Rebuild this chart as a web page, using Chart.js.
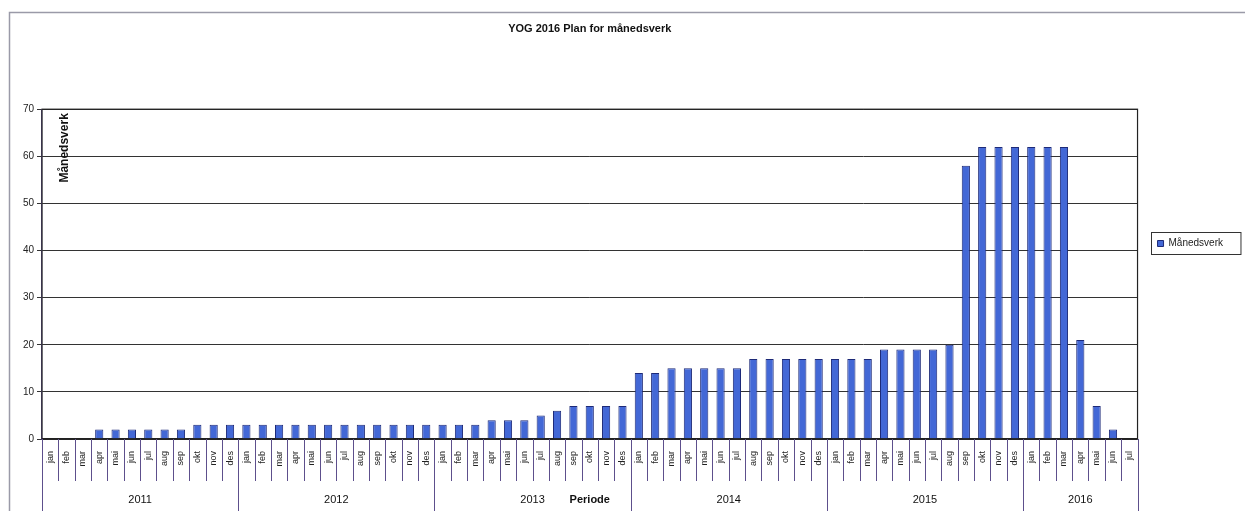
<!DOCTYPE html>
<html>
<head>
<meta charset="utf-8">
<script src="https://cdn.jsdelivr.net/npm/chart.js@4.4.1/dist/chart.umd.min.js"></script>
<style>
  html, body { margin: 0; padding: 0; background: #fff; }
  #wrap { width: 1245px; height: 511px; position: relative; }
</style>
</head>
<body>
<div id="wrap"><canvas id="chart"></canvas></div>
<script>
// Kategorier: år og måneder
const years = ['2011', '2012', '2013', '2014', '2015', '2016'];
const monthNames = ['jan', 'feb', 'mar', 'apr', 'mai', 'jun', 'jul', 'aug', 'sep', 'okt', 'nov', 'des'];
const monthsPerYear = [12, 12, 12, 12, 12, 7];

// Månedsverk per år (lest av figuren)
const mv2011 = [0, 0, 0, 2, 2, 2, 2, 2, 2, 3, 3, 3];
const mv2012 = [3, 3, 3, 3, 3, 3, 3, 3, 3, 3, 3, 3];
const mv2013 = [3, 3, 3, 4, 4, 4, 5, 6, 7, 7, 7, 7];
const mv2014 = [14, 14, 15, 15, 15, 15, 15, 17, 17, 17, 17, 17];
const mv2015 = [17, 17, 17, 19, 19, 19, 19, 20, 58, 62, 62, 62];
const mv2016 = [62, 62, 62, 21, 7, 2, 0];

const yTicks = [0, 10, 20, 30, 40, 50, 60, 70];

const labels = [];
years.forEach((y, i) => {
    for (let m = 0; m < monthsPerYear[i]; m++) labels.push(monthNames[m]);
});
const values = [].concat(mv2011, mv2012, mv2013, mv2014, mv2015, mv2016);

const FONT = "'Liberation Sans', Arial, sans-serif";
const SEP_COLOR = '#5d4f8c';

// Tegner ramme, skillelinjer, årstall og akse-tittel
const decorPlugin = {
    id: 'decor',
    afterLayout(chart) {
        // flytt legenden litt til høyre og opp, som i Excel-figuren
        const lg = chart.legend;
        if (lg) {
            lg.left += 8; lg.right += 8;
            lg.top -= 18; lg.bottom -= 18;
        }
    },
    beforeDraw(chart) {
        const ctx = chart.ctx;
        ctx.save();
        ctx.fillStyle = '#fff';
        ctx.fillRect(0, 0, chart.width, chart.height);
        ctx.strokeStyle = '#9a9aa8';
        ctx.lineWidth = 1.5;
        ctx.beginPath();
        ctx.moveTo(9.5, chart.height);
        ctx.lineTo(9.5, 12.5);
        ctx.lineTo(chart.width, 12.5);
        ctx.stroke();
        ctx.restore();
    },
    afterDraw(chart) {
        const ctx = chart.ctx;
        const xs = chart.scales.x;
        const area = chart.chartArea;
        const half = (xs.getPixelForValue(1) - xs.getPixelForValue(0)) / 2;
        ctx.save();

        // ramme rundt plottet
        ctx.strokeStyle = '#222';
        ctx.lineWidth = 1.2;
        ctx.strokeRect(area.left, area.top, area.right - area.left, area.bottom - area.top);

        // skillelinjer mellom måneder
        ctx.strokeStyle = SEP_COLOR;
        ctx.lineWidth = 1;
        for (let i = 1; i < labels.length; i++) {
            const x = Math.round(xs.getPixelForValue(i) - half) + 0.5;
            ctx.beginPath();
            ctx.moveTo(x, area.bottom);
            ctx.lineTo(x, area.bottom + 42);
            ctx.stroke();
        }

        // skillelinjer mellom år + årstall
        ctx.fillStyle = '#111';
        ctx.font = '11px ' + FONT;
        ctx.textAlign = 'center';
        ctx.textBaseline = 'middle';
        let start = 0;
        years.forEach((y, i) => {
            const end = start + monthsPerYear[i];
            const x0 = xs.getPixelForValue(start) - half;
            const x1 = i === years.length - 1 ? area.right : xs.getPixelForValue(end) - half;
            [x0, x1].forEach(x => {
                const px = Math.round(x) + 0.5;
                ctx.beginPath();
                ctx.moveTo(px, area.bottom);
                ctx.lineTo(px, chart.height);
                ctx.stroke();
            });
            ctx.fillText(y, (x0 + x1) / 2, 500);
            start = end;
        });

        // y-aksens tittel inne i plottet
        ctx.save();
        ctx.translate(area.left + 23, area.top + 4);
        ctx.rotate(-Math.PI / 2);
        ctx.font = 'bold 12px ' + FONT;
        ctx.textAlign = 'right';
        ctx.fillStyle = '#111';
        ctx.fillText('Månedsverk', 0, 0);
        ctx.restore();

        // ramme rundt legenden
        const hb = chart.legend && chart.legend.legendHitBoxes && chart.legend.legendHitBoxes[0];
        if (hb) {
            ctx.strokeStyle = '#333';
            ctx.lineWidth = 1;
            ctx.strokeRect(Math.round(hb.left) - 6.5, Math.round(hb.top) - 6.5, hb.width + 24, hb.height + 12);
        }
        ctx.restore();
    }
};

new Chart(document.getElementById('chart'), {
    type: 'bar',
    data: {
        labels: labels,
        datasets: [{
            label: 'Månedsverk',
            data: values,
            backgroundColor: '#4368d6',
            borderColor: '#1d2a78',
            borderWidth: 1,
            categoryPercentage: 1.0,
            barPercentage: 0.5
        }]
    },
    options: {
        responsive: true,
        maintainAspectRatio: false,
        animation: false,
        layout: { padding: { left: 10, top: 12, right: 20, bottom: 0 } },
        plugins: {
            title: {
                display: true,
                text: 'YOG 2016 Plan for månedsverk',
                fullSize: false,
                color: '#111',
                font: { family: FONT, size: 11, weight: 'bold' },
                padding: { top: 10, bottom: 74 }
            },
            legend: {
                position: 'right',
                labels: {
                    boxWidth: 6,
                    boxHeight: 6,
                    padding: 12,
                    color: '#222',
                    font: { family: FONT, size: 10 }
                }
            },
            tooltip: { enabled: false }
        },
        scales: {
            x: {
                grid: { display: false },
                border: { display: true, color: '#222', width: 1.2 },
                ticks: {
                    autoSkip: false,
                    minRotation: 90,
                    maxRotation: 90,
                    padding: 4,
                    color: '#222',
                    font: { family: FONT, size: 9 }
                },
                title: {
                    display: true,
                    text: 'Periode',
                    color: '#111',
                    font: { family: FONT, size: 11, weight: 'bold' },
                    padding: { top: 0, bottom: 4 }
                },
                afterFit(scale) { scale.height = 72; }
            },
            y: {
                min: 0,
                max: 70,
                afterBuildTicks(scale) { scale.ticks = yTicks.map(v => ({ value: v })); },
                grid: { color: '#333', lineWidth: 1, tickLength: 5 },
                border: { display: true, color: SEP_COLOR, width: 1.2 },
                ticks: {
                    padding: 3,
                    color: '#222',
                    font: { family: FONT, size: 10 }
                },
                afterFit(scale) { scale.width = 32; }
            }
        }
    },
    plugins: [decorPlugin]
});
</script>
</body>
</html>
